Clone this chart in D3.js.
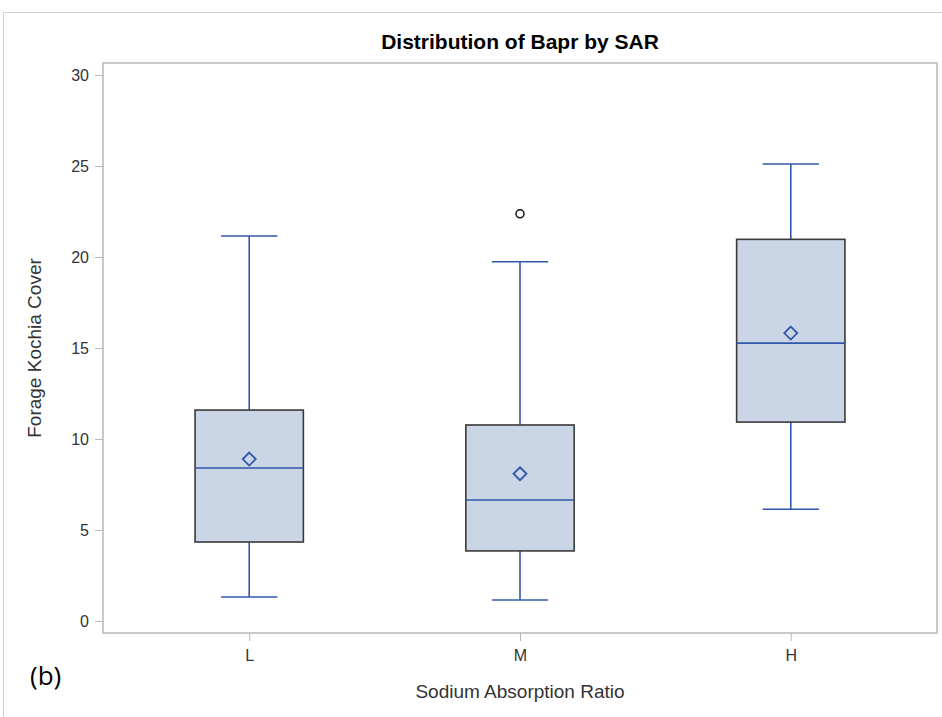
<!DOCTYPE html>
<html>
<head>
<meta charset="utf-8">
<script src="https://cdn.jsdelivr.net/npm/d3@7"></script>
<style>
  html, body { margin: 0; padding: 0; background: #fff; }
  svg { display: block; font-family: "Liberation Sans", Arial, sans-serif; }
</style>
</head>
<body>
<svg id="chart" width="942" height="717"></svg>
<script>
// Box plot summary for Bapr cover by sodium absorption ratio class
const categories = ["L", "M", "H"];
const whiskerLow  = [1.32, 1.15, 6.14];
const q1          = [4.34, 3.85, 10.93];
const median      = [8.41, 6.65, 15.27];
const mean        = [8.90, 8.09, 15.82];
const q3          = [11.59, 10.77, 20.97];
const whiskerHigh = [21.15, 19.74, 25.11];
const outliers    = [[], [22.37], []];
const yTicks      = [0, 5, 10, 15, 20, 25, 30];

const svg = d3.select("#chart");
const plot = { left: 103, right: 937, top: 63, bottom: 633 };

const x = d3.scalePoint().domain(categories)
  .range([plot.left, plot.right]).padding(0.54);
const y = d3.scaleLinear().domain([-0.66, 30.66])
  .range([plot.bottom, plot.top]);

const boxW = x.step() * 0.4;
const capW = boxW * 0.52;
const blue = "#3157ab";
const frameColor = "#b3b9bd";
const textColor = "#333";

// outer graph border
svg.append("rect").attr("x", 3.5).attr("y", 12.5)
  .attr("width", 960).attr("height", 720)
  .attr("fill", "none").attr("stroke", "#d0d3d5").attr("stroke-width", 1);

// title
svg.append("text").attr("x", (plot.left + plot.right) / 2).attr("y", 49)
  .attr("text-anchor", "middle").attr("font-weight", "bold")
  .attr("font-size", 21).attr("fill", "#000")
  .text("Distribution of Bapr by SAR");

// axes
const yAxis = svg.append("g").attr("transform", `translate(${plot.left},0)`)
  .call(d3.axisLeft(y).tickValues(yTicks).tickSize(8).tickPadding(6));
const xAxis = svg.append("g").attr("transform", `translate(0,${plot.bottom})`)
  .call(d3.axisBottom(x).tickSize(8).tickPadding(9));
[yAxis, xAxis].forEach(g => {
  g.select(".domain").remove();
  g.selectAll(".tick line").attr("stroke", frameColor).attr("stroke-width", 1);
  g.selectAll(".tick text").attr("fill", textColor).attr("font-size", 16)
    .attr("font-family", "'Liberation Sans', Arial, sans-serif");
});

// axis titles
svg.append("text")
  .attr("transform", `translate(41,${(plot.top + plot.bottom) / 2}) rotate(-90)`)
  .attr("text-anchor", "middle").attr("font-size", 19).attr("fill", textColor)
  .text("Forage Kochia Cover");
svg.append("text").attr("x", (plot.left + plot.right) / 2).attr("y", 698)
  .attr("text-anchor", "middle").attr("font-size", 19).attr("fill", textColor)
  .text("Sodium Absorption Ratio");

// panel tag
svg.append("text").attr("x", 30).attr("y", 685)
  .attr("font-size", 26).attr("fill", "#000")
  .attr("font-family", "'Open Sans', sans-serif")
  .text("(b)");

const rows = categories.map((c, i) => ({
  c, lo: whiskerLow[i], q1: q1[i], med: median[i], mean: mean[i],
  q3: q3[i], hi: whiskerHigh[i], out: outliers[i]
}));

const g = svg.append("g");
rows.forEach(d => {
  const cx = x(d.c);
  // whiskers
  g.append("line").attr("x1", cx).attr("x2", cx)
    .attr("y1", y(d.q3)).attr("y2", y(d.hi))
    .attr("stroke", blue).attr("stroke-width", 1.6);
  g.append("line").attr("x1", cx).attr("x2", cx)
    .attr("y1", y(d.q1)).attr("y2", y(d.lo))
    .attr("stroke", blue).attr("stroke-width", 1.6);
  [d.lo, d.hi].forEach(v => {
    g.append("line").attr("x1", cx - capW / 2).attr("x2", cx + capW / 2)
      .attr("y1", y(v)).attr("y2", y(v))
      .attr("stroke", blue).attr("stroke-width", 1.6);
  });
  // box
  g.append("rect").attr("x", cx - boxW / 2).attr("y", y(d.q3))
    .attr("width", boxW).attr("height", y(d.q1) - y(d.q3))
    .attr("fill", "#cad5e5").attr("stroke", "#3a3a3a").attr("stroke-width", 1.6);
  // median
  g.append("line").attr("x1", cx - boxW / 2).attr("x2", cx + boxW / 2)
    .attr("y1", y(d.med)).attr("y2", y(d.med))
    .attr("stroke", blue).attr("stroke-width", 1.6);
  // mean marker
  const r = 6.5;
  const my = y(d.mean);
  g.append("path")
    .attr("d", `M${cx},${my - r}L${cx + r},${my}L${cx},${my + r}L${cx - r},${my}Z`)
    .attr("fill", "none").attr("stroke", blue).attr("stroke-width", 1.8);
  // outliers
  d.out.forEach(v => {
    g.append("circle").attr("cx", cx).attr("cy", y(v)).attr("r", 4)
      .attr("fill", "none").attr("stroke", "#111").attr("stroke-width", 1.5);
  });
});

// plot frame
svg.append("rect").attr("x", plot.left).attr("y", plot.top)
  .attr("width", plot.right - plot.left).attr("height", plot.bottom - plot.top)
  .attr("fill", "none").attr("stroke", frameColor).attr("stroke-width", 1.5);
</script>
</body>
</html>
